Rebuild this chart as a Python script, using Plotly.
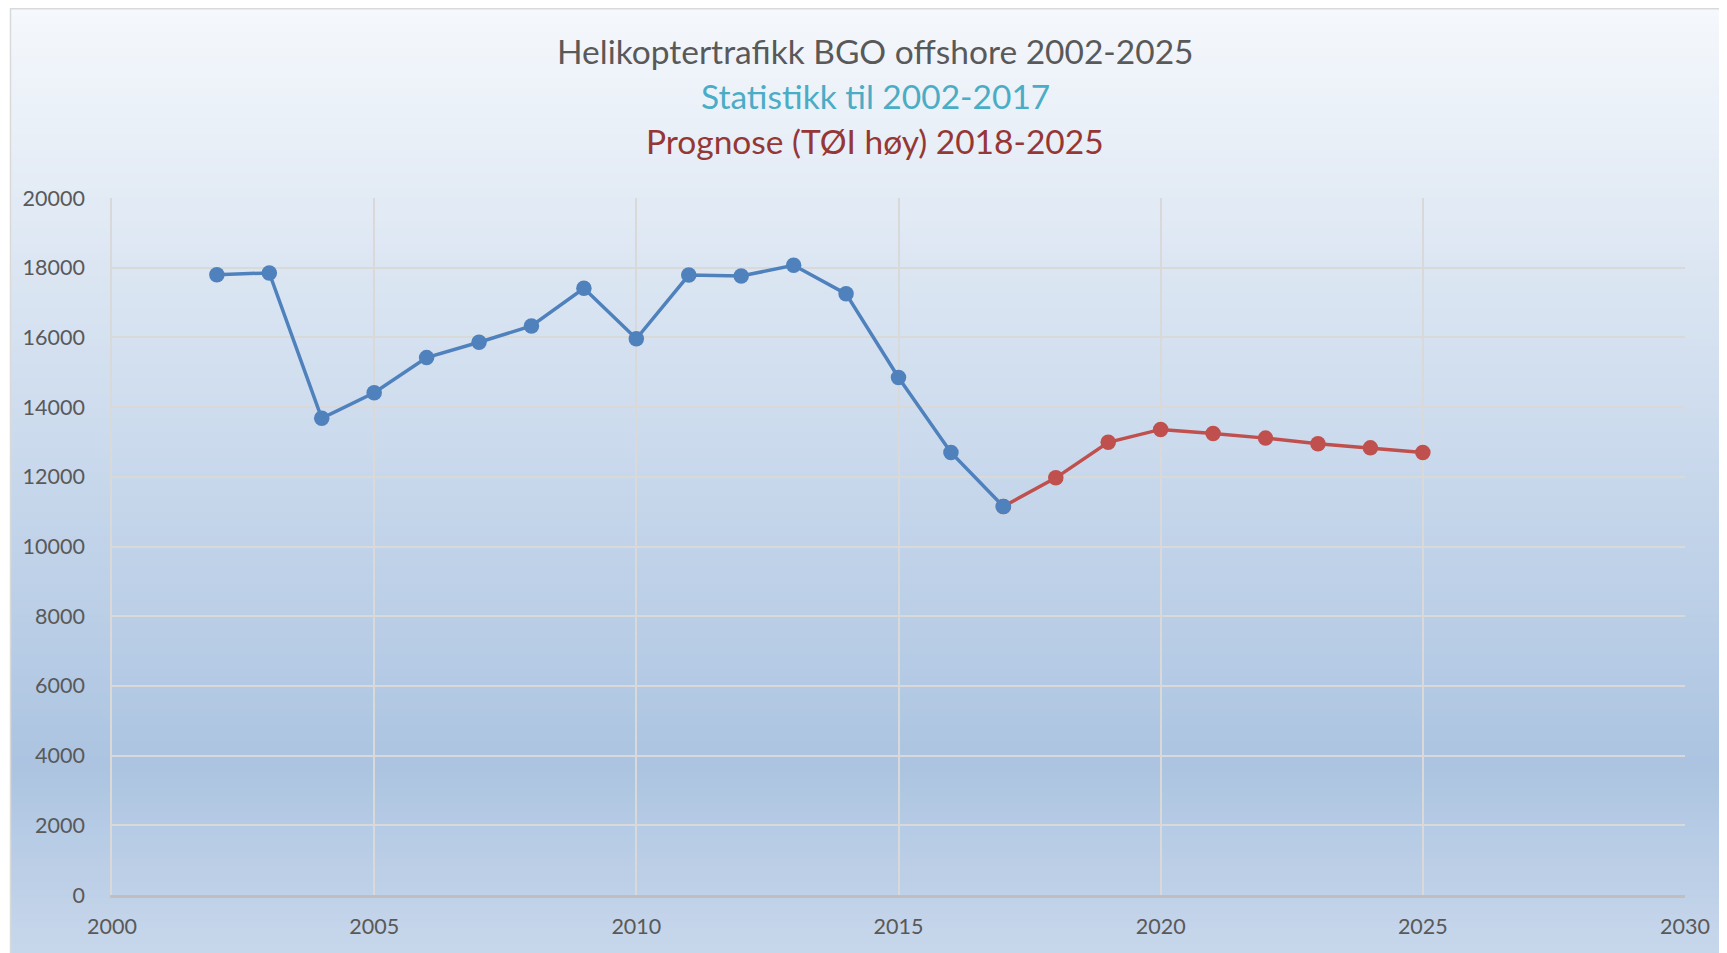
import plotly.graph_objects as go

# statistikk 2002-2017
years_stat = [2002, 2003, 2004, 2005, 2006, 2007, 2008, 2009, 2010, 2011, 2012, 2013, 2014, 2015, 2016, 2017]
traffic_stat = [17800, 17850, 13680, 14410, 15420, 15860, 16330, 17410, 15960, 17790, 17760, 18070, 17250, 14850, 12700, 11150]

# prognose (TØI høy) 2018-2025, starts from the 2017 value
years_prog = [2017, 2018, 2019, 2020, 2021, 2022, 2023, 2024, 2025]
traffic_prog = [11150, 11970, 12990, 13360, 13240, 13110, 12950, 12830, 12700]

x_ticks = [2000, 2005, 2010, 2015, 2020, 2025, 2030]
y_ticks = list(range(0, 20001, 2000))
y_tick_text = [str(v) for v in y_ticks]

title_lines = ["Helikoptertrafikk BGO offshore 2002-2025", "Statistikk til 2002-2017", "Prognose (TØI høy) 2018-2025"]
title_colors = ["#595959", "#4bacc6", "#953735"]

# page has ~8px body margin, so the figure is a bit smaller than the window
W_FIG, H_FIG = 1719, 945
L, R, T, B = 104, 42, 190, 58
PW, PH = W_FIG - L - R, H_FIG - T - B


def px_x(p):
    return (p - L) / PW


def px_y(p):
    return 1 - (p - T) / PH


def lerp(c1, c2, t):
    return tuple(round(a + (b - a) * t) for a, b in zip(c1, c2))


fig = go.Figure()

fig.add_trace(go.Scatter(x=years_prog, y=traffic_prog, mode="lines+markers",
                         line=dict(color="#c0504d", width=3.5),
                         marker=dict(size=15.5, color="#c0504d"), showlegend=False))
fig.add_trace(go.Scatter(x=years_stat, y=traffic_stat, mode="lines+markers",
                         line=dict(color="#4f81bd", width=3.5),
                         marker=dict(size=15.5, color="#4f81bd"), showlegend=False))

# gradient background (chart area like excel)
shapes = []
top_px, bot_px = 0, H_FIG
c_top, c_mid, c_bot = (245, 248, 252), (172, 196, 225), (200, 215, 235)
n = 120
for i in range(n):
    f = (i + 0.5) / n
    if f < 0.8:
        c = lerp(c_top, c_mid, f / 0.8)
    else:
        c = lerp(c_mid, c_bot, (f - 0.8) / 0.2)
    y0 = top_px + (bot_px - top_px) * i / n
    y1 = top_px + (bot_px - top_px) * (i + 1) / n + 1
    shapes.append(dict(type="rect", xref="paper", yref="paper", layer="below",
                       x0=px_x(2), x1=px_x(W_FIG + 5), y0=px_y(y1), y1=px_y(y0),
                       fillcolor="rgb(%d,%d,%d)" % c, line=dict(width=0)))
shapes.append(dict(type="rect", xref="paper", yref="paper", layer="above",
                   x0=px_x(2.5), x1=px_x(W_FIG + 5), y0=px_y(H_FIG + 5), y1=px_y(0.8),
                   fillcolor="rgba(0,0,0,0)", line=dict(color="#d9d9d9", width=1.5)))

annotations = []
for txt, col, ypix in zip(title_lines, title_colors, [43, 88, 133]):
    annotations.append(dict(text=txt, xref="paper", yref="paper", x=px_x(867), y=px_y(ypix),
                            xanchor="center", yanchor="middle", showarrow=False,
                            font=dict(family="Lato", size=33.5, color=col)))

fig.update_layout(
    width=W_FIG, height=H_FIG,
    margin=dict(l=L, r=R, t=T, b=B),
    paper_bgcolor="white",
    plot_bgcolor="rgba(0,0,0,0)",
    shapes=shapes,
    annotations=annotations,
    font=dict(family="Lato", size=21.5, color="#595959"),
)
fig.update_xaxes(range=[2000, 2030], tickvals=x_ticks, showgrid=True, gridcolor="#d9d9d9", gridwidth=1.5,
                 zeroline=False, showline=True, linecolor="#bfbfbf", linewidth=2.5,
                 ticks="", ticklabelstandoff=10)
fig.update_yaxes(range=[0, 20000], tickvals=y_ticks, ticktext=y_tick_text, showgrid=True,
                 gridcolor="#d9d9d9", gridwidth=2,
                 zeroline=False, showline=True, linecolor="#d9d9d9", linewidth=1.5,
                 ticks="", ticklabelstandoff=21)

fig.write_html("out.html")
